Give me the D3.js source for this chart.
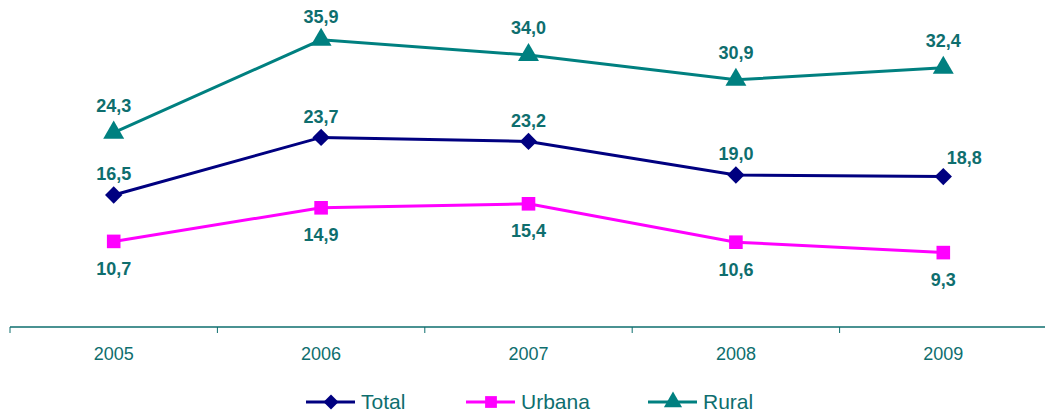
<!DOCTYPE html>
<html>
<head>
<meta charset="utf-8">
<script src="https://cdn.jsdelivr.net/npm/d3@7/dist/d3.min.js"></script>
<style>
  body { margin: 0; background: #fff; }
  svg { display: block; font-family: "Liberation Sans", Arial, sans-serif; }
</style>
</head>
<body>
<div id="chart"></div>
<script>
// data
const years = ["2005", "2006", "2007", "2008", "2009"];
const total = [16.5, 23.7, 23.2, 19.0, 18.8];
const urbana = [10.7, 14.9, 15.4, 10.6, 9.3];
const rural = [24.3, 35.9, 34.0, 30.9, 32.4];

const width = 1045, height = 415;
const teal = "#0E6E6E";

const svg = d3.select("#chart").append("svg")
    .attr("width", width)
    .attr("height", height);

// scales
const x = d3.scaleBand().domain(years).range([10, 1047]);
const y = d3.scaleLinear().domain([0, 40]).range([327, 7]);
const cx = d => x(d) + x.bandwidth() / 2;

// x axis with ticks between categories
const axis = svg.append("g").attr("transform", "translate(0," + y(0) + ")");
axis.append("line")
    .attr("x1", x.range()[0]).attr("x2", x.range()[1])
    .attr("stroke", teal).attr("stroke-width", 1.5);
axis.selectAll(".tick")
    .data(years)
    .enter().append("line")
    .attr("x1", d => x(d)).attr("x2", d => x(d))
    .attr("y1", 0).attr("y2", 6)
    .attr("stroke", teal).attr("stroke-width", 1);
axis.selectAll(".lab")
    .data(years)
    .enter().append("text")
    .attr("x", d => cx(d)).attr("y", 27)
    .attr("dy", "0.35em")
    .attr("text-anchor", "middle")
    .attr("fill", teal)
    .style("font-size", "18px")
    .text(d => d);

// diamond = rotated square
const series = [
    {name: "Total", values: total, color: "#000080", shape: d3.symbolSquare, size: 150, rot: 45, labelDy: -21},
    {name: "Urbana", values: urbana, color: "#FF00FF", shape: d3.symbolSquare, size: 185, rot: 0, labelDy: 27},
    {name: "Rural", values: rural, color: "#008080", shape: d3.symbolTriangle, size: 190, rot: 0, labelDy: -27}
];

const line = d3.line()
    .x((d, i) => cx(years[i]))
    .y(d => y(d));

const fmt = v => v.toFixed(1).replace(".", ",");

series.forEach(s => {
    svg.append("path")
        .attr("d", line(s.values))
        .attr("fill", "none")
        .attr("stroke", s.color)
        .attr("stroke-width", 3);

    svg.selectAll(null)
        .data(s.values)
        .enter().append("path")
        .attr("d", d3.symbol().type(s.shape).size(s.size))
        .attr("transform", (d, i) => "translate(" + cx(years[i]) + "," + y(d) + ") rotate(" + s.rot + ")")
        .attr("fill", s.color);

    svg.selectAll(null)
        .data(s.values)
        .enter().append("text")
        .attr("x", (d, i) => cx(years[i]) + (s.name === "Total" && i === years.length - 1 ? 21 : 0))
        .attr("y", (d, i) => {
            let yy = y(d) + s.labelDy;
            if (s.name === "Total" && i === years.length - 1) yy = y(d) - 19;
            return Math.max(17, yy);
        })
        .attr("dy", "0.35em")
        .attr("text-anchor", "middle")
        .attr("fill", teal)
        .style("font-size", "18px")
        .style("font-weight", "bold")
        .text(d => fmt(d));
});

// legend
const legendX = [306, 466, 648];
const legend = svg.append("g").attr("transform", "translate(0,402)");
series.forEach((s, i) => {
    const g = legend.append("g").attr("transform", "translate(" + legendX[i] + ",0)");
    g.append("line")
        .attr("x1", 0).attr("x2", 49)
        .attr("stroke", s.color).attr("stroke-width", 3);
    g.append("path")
        .attr("d", d3.symbol().type(s.shape).size(s.size * 0.75))
        .attr("transform", "translate(25,0) rotate(" + s.rot + ")")
        .attr("fill", s.color);
    g.append("text")
        .attr("x", 55).attr("y", 0)
        .attr("dy", "0.35em")
        .attr("fill", teal)
        .style("font-size", "21px")
        .text(s.name);
});
</script>
</body>
</html>
